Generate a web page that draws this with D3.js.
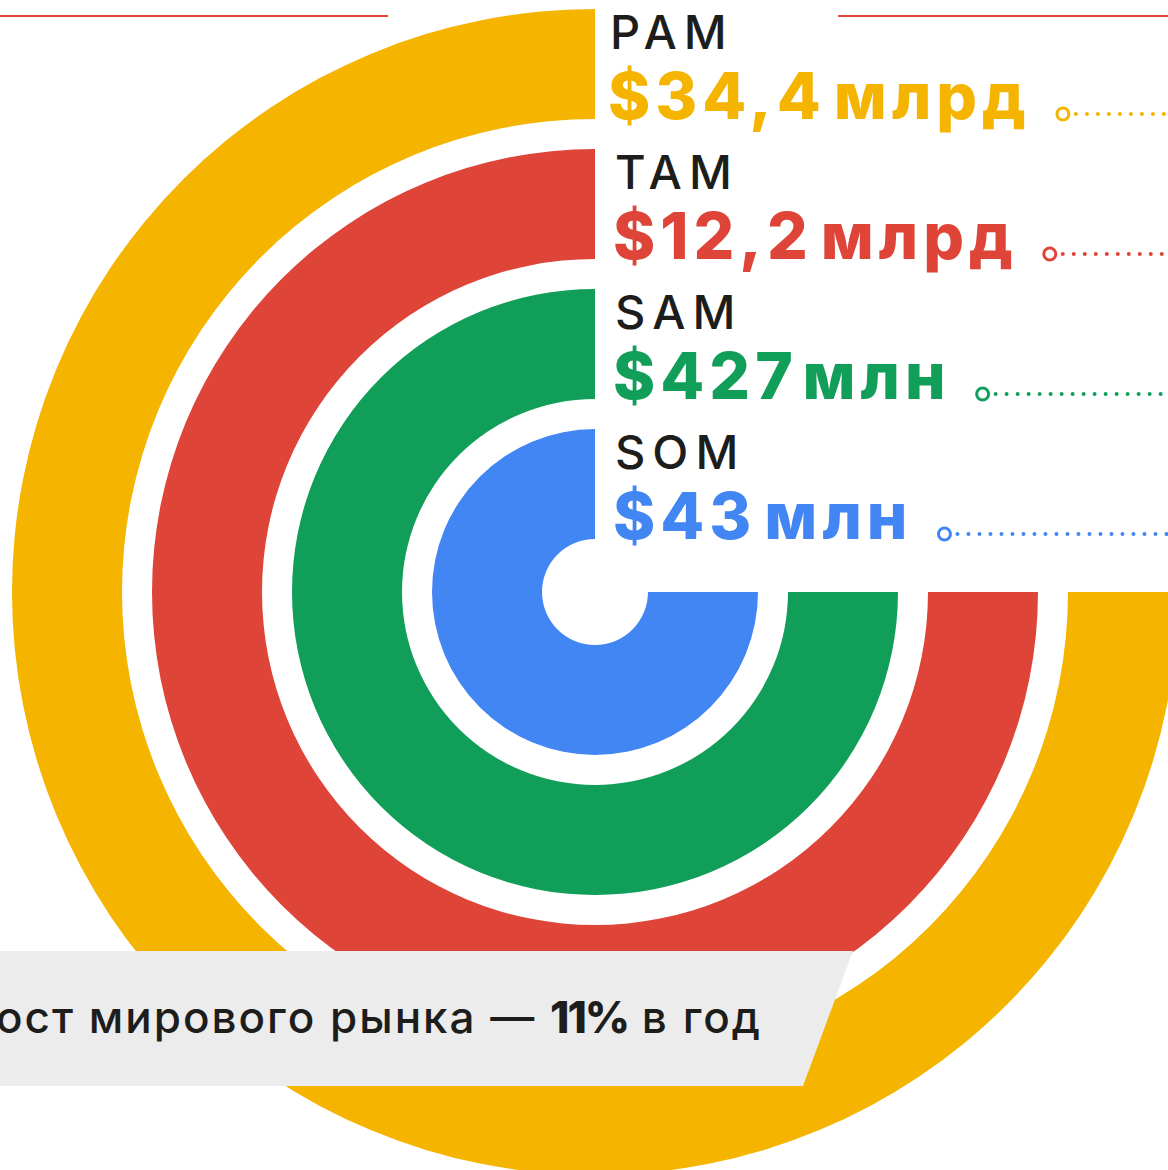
<!DOCTYPE html>
<html>
<head>
<meta charset="utf-8">
<script src="https://cdn.jsdelivr.net/npm/d3@7"></script>
<style>
  html, body { margin: 0; padding: 0; background: #fff; overflow: hidden; }
  svg { display: block; font-family: Inter, "Open Sans", sans-serif; }
</style>
</head>
<body>
<div id="chart"></div>
<script>
// Market levels, outer ring first
const levels = ["PAM", "TAM", "SAM", "SOM"];
const amounts = ["$34,4", "$12,2", "$427", "$43"];
const units = ["млрд", "млрд", "млн", "млн"];
const ringColors = ["#F4B400", "#DE4437", "#119E59", "#4286F4"];
const growthText = ["Рост мирового рынка — ", "11%", " в год"];

const width = 1168, height = 1170;
const cx = 595, cy = 592;

const svg = d3.select("#chart")
    .append("svg")
    .attr("width", width)
    .attr("height", height);

// Rings: inner levels closer to the centre
const rScale = d3.scaleBand()
    .domain(levels.slice().reverse())
    .range([53, 583])
    .paddingInner(30 / 140)
    .paddingOuter(0);

const arc = d3.arc()
    .innerRadius(d => rScale(d))
    .outerRadius(d => rScale(d) + rScale.bandwidth())
    .startAngle(Math.PI / 2)
    .endAngle(Math.PI * 2);

const g = svg.append("g").attr("transform", `translate(${cx},${cy})`);

g.selectAll("path.ring")
    .data(levels)
    .join("path")
    .attr("class", "ring")
    .attr("d", arc)
    .attr("fill", (d, i) => ringColors[i]);

// Thin red rule at the top
svg.append("line")
    .attr("x1", 0).attr("x2", 388)
    .attr("y1", 16).attr("y2", 16)
    .attr("stroke", "#E8453C").attr("stroke-width", 2);
svg.append("line")
    .attr("x1", 838).attr("x2", width)
    .attr("y1", 16).attr("y2", 16)
    .attr("stroke", "#E8453C").attr("stroke-width", 2);

// Labels at the top end of each ring
levels.forEach((name, i) => {
    const outer = rScale(name) + rScale.bandwidth();
    const inner = rScale(name);
    const x = i === 0 ? 610 : 615;

    svg.append("text")
        .attr("x", x)
        .attr("y", cy - outer + 40)
        .attr("fill", "#1d1d1b")
        .style("font-size", "47px")
        .style("font-weight", 500)
        .style("letter-spacing", "7px")
        .text(name);

    const val = svg.append("text")
        .attr("x", x - 2)
        .attr("y", cy - inner)
        .attr("fill", ringColors[i])
        .style("font-size", "64px")
        .style("font-weight", 800)
        .style("letter-spacing", "5px");
    val.append("tspan").text(amounts[i]);
    val.append("tspan").attr("dx", 8).text(units[i]);

    const end = val.node().getBBox();
    const ly = cy - inner - 5;
    const lx = end.x + end.width + 32;

    svg.append("line")
        .attr("x1", lx + 13).attr("x2", width + 10)
        .attr("y1", ly).attr("y2", ly)
        .attr("stroke", ringColors[i])
        .attr("stroke-width", 4)
        .attr("stroke-linecap", "round")
        .attr("stroke-dasharray", "0 11");

    svg.append("circle")
        .attr("cx", lx).attr("cy", ly).attr("r", 6)
        .attr("fill", "#fff")
        .attr("stroke", ringColors[i])
        .attr("stroke-width", 3);
});

// Grey banner at the bottom
svg.append("path")
    .attr("d", d3.line()([[0, 951], [853, 951], [803, 1086], [0, 1086]]) + "Z")
    .attr("fill", "#ECECEC");

const banner = svg.append("text")
    .attr("x", 762)
    .attr("y", 1033)
    .attr("text-anchor", "end")
    .attr("fill", "#1d1d1b")
    .style("font-size", "44px")
    .style("letter-spacing", "2px");
banner.append("tspan").style("font-weight", 500).text(growthText[0]);
banner.append("tspan").style("font-weight", 800).style("letter-spacing", "-2px").text(growthText[1]);
banner.append("tspan").style("font-weight", 500).text(growthText[2]);
</script>
</body>
</html>
